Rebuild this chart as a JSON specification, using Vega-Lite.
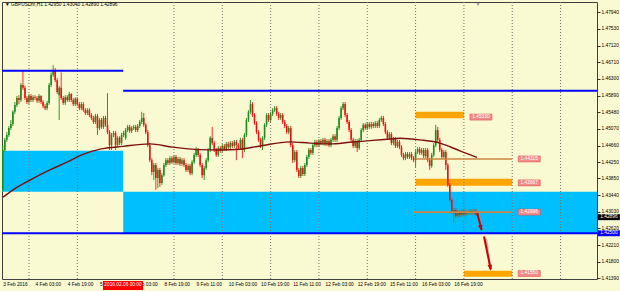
{
"$schema":"https://vega.github.io/schema/vega-lite/v6.json",
"width":595,"height":277,
"autosize":{"type":"none"},
"padding":{"left":2,"top":2,"right":23,"bottom":12},
"background":"#fafad2",
"config":{"view":{"stroke":"#404040","strokeWidth":1,"fill":"#fafad2"},"font":"Liberation Sans",
 "axis":{"labelOverlap":false,"labelFlush":false}},
"datasets":{
"zones":[{"t1":10.6,"t2":70.8,"p1":1.4453,"p2":1.4352},{"t1":70.8,"t2":306.1,"p1":1.4352,"p2":1.4250}],
"boxes":[{"t1":216,"t2":240,"p1":1.4549,"p2":1.4533},{"t1":216,"t2":264,"p1":1.4384,"p2":1.4367},{"t1":240,"t2":264,"p1":1.4158,"p2":1.4143}],
"days":[{"t":24},{"t":48},{"t":96},{"t":120},{"t":144},{"t":168},{"t":192},{"t":216},{"t":240},{"t":264},{"t":288}],
"hl":[{"t1":10.6,"t2":70.8,"p":1.4650},{"t1":70.8,"t2":306.1,"p":1.4601},{"t1":10.6,"t2":306.1,"p":1.4250}],
"tl":[{"t1":216,"t2":264,"p":1.4433},{"t1":215.2,"t2":264,"p":1.4302}],
"labs":[{"t":240,"p":1.4536,"txt":"1.45330"},{"t":264,"p":1.4374,"txt":"1.43667"},{"t":264,"p":1.4433,"txt":"1.44315"},{"t":264,"p":1.4302,"txt":"1.42996"},{"t":264,"p":1.4151,"txt":"1.41550"}],
"ma":[{"t":11.1,"p":1.4339},{"t":16.1,"p":1.4357},{"t":24.5,"p":1.4381},{"t":34.4,"p":1.4406},{"t":42.9,"p":1.4425},{"t":50.8,"p":1.4444},{"t":59.3,"p":1.4457},{"t":70.7,"p":1.4464},{"t":84.1,"p":1.447},{"t":95.5,"p":1.4462},{"t":108.9,"p":1.4456},{"t":118.9,"p":1.4455},{"t":128.8,"p":1.4457},{"t":138.7,"p":1.4465},{"t":153.6,"p":1.4475},{"t":163.5,"p":1.4472},{"t":173.5,"p":1.447},{"t":183.4,"p":1.4474},{"t":193.3,"p":1.4478},{"t":203.3,"p":1.4482},{"t":208.2,"p":1.4484},{"t":218.2,"p":1.448},{"t":228.1,"p":1.4472},{"t":233.1,"p":1.4463},{"t":238,"p":1.4453},{"t":246.5,"p":1.4437}],
"bars":[
{"t":11,"o":1.4357,"h":1.4467,"l":1.4352,"c":1.4455},
{"t":12,"o":1.4455,"h":1.4485,"l":1.4450,"c":1.4480},
{"t":13,"o":1.4480,"h":1.4499,"l":1.4475,"c":1.4492},
{"t":14,"o":1.4492,"h":1.4514,"l":1.4487,"c":1.4509},
{"t":15,"o":1.4509,"h":1.4529,"l":1.4504,"c":1.4519},
{"t":16,"o":1.4519,"h":1.4553,"l":1.4514,"c":1.4549},
{"t":17,"o":1.4549,"h":1.4573,"l":1.4544,"c":1.4566},
{"t":18,"o":1.4566,"h":1.4588,"l":1.4561,"c":1.4583},
{"t":19,"o":1.4583,"h":1.4590,"l":1.4568,"c":1.4578},
{"t":20,"o":1.4578,"h":1.4620,"l":1.4573,"c":1.4615},
{"t":21,"o":1.4615,"h":1.4650,"l":1.4603,"c":1.4608},
{"t":22,"o":1.4608,"h":1.4613,"l":1.4578,"c":1.4583},
{"t":23,"o":1.4583,"h":1.4588,"l":1.4568,"c":1.4573},
{"t":24,"o":1.4573,"h":1.4593,"l":1.4568,"c":1.4588},
{"t":25,"o":1.4588,"h":1.4593,"l":1.4573,"c":1.4578},
{"t":26,"o":1.4578,"h":1.4590,"l":1.4573,"c":1.4585},
{"t":27,"o":1.4585,"h":1.4590,"l":1.4578,"c":1.4583},
{"t":28,"o":1.4583,"h":1.4588,"l":1.4571,"c":1.4576},
{"t":29,"o":1.4576,"h":1.4593,"l":1.4571,"c":1.4588},
{"t":30,"o":1.4588,"h":1.4590,"l":1.4568,"c":1.4573},
{"t":31,"o":1.4573,"h":1.4578,"l":1.4558,"c":1.4563},
{"t":32,"o":1.4563,"h":1.4568,"l":1.4553,"c":1.4558},
{"t":33,"o":1.4558,"h":1.4576,"l":1.4553,"c":1.4571},
{"t":34,"o":1.4571,"h":1.4620,"l":1.4566,"c":1.4615},
{"t":35,"o":1.4615,"h":1.4646,"l":1.4610,"c":1.4640},
{"t":36,"o":1.4640,"h":1.4664,"l":1.4635,"c":1.4652},
{"t":37,"o":1.4652,"h":1.4657,"l":1.4622,"c":1.4627},
{"t":38,"o":1.4627,"h":1.4632,"l":1.4593,"c":1.4598},
{"t":39,"o":1.4590,"h":1.4613,"l":1.4529,"c":1.4608},
{"t":40,"o":1.4608,"h":1.4646,"l":1.4578,"c":1.4583},
{"t":41,"o":1.4583,"h":1.4588,"l":1.4566,"c":1.4571},
{"t":42,"o":1.4571,"h":1.4590,"l":1.4566,"c":1.4585},
{"t":43,"o":1.4585,"h":1.4590,"l":1.4573,"c":1.4578},
{"t":44,"o":1.4578,"h":1.4598,"l":1.4573,"c":1.4593},
{"t":45,"o":1.4593,"h":1.4595,"l":1.4573,"c":1.4578},
{"t":46,"o":1.4578,"h":1.4583,"l":1.4563,"c":1.4568},
{"t":47,"o":1.4568,"h":1.4585,"l":1.4563,"c":1.4581},
{"t":48,"o":1.4581,"h":1.4585,"l":1.4563,"c":1.4568},
{"t":49,"o":1.4568,"h":1.4573,"l":1.4553,"c":1.4558},
{"t":50,"o":1.4558,"h":1.4573,"l":1.4553,"c":1.4568},
{"t":51,"o":1.4568,"h":1.4573,"l":1.4549,"c":1.4553},
{"t":52,"o":1.4553,"h":1.4558,"l":1.4541,"c":1.4546},
{"t":53,"o":1.4546,"h":1.4558,"l":1.4541,"c":1.4553},
{"t":54,"o":1.4553,"h":1.4558,"l":1.4536,"c":1.4541},
{"t":55,"o":1.4541,"h":1.4546,"l":1.4529,"c":1.4534},
{"t":56,"o":1.4534,"h":1.4539,"l":1.4519,"c":1.4524},
{"t":57,"o":1.4524,"h":1.4544,"l":1.4519,"c":1.4539},
{"t":58,"o":1.4539,"h":1.4544,"l":1.4492,"c":1.4509},
{"t":59,"o":1.4509,"h":1.4534,"l":1.4504,"c":1.4529},
{"t":60,"o":1.4529,"h":1.4534,"l":1.4507,"c":1.4512},
{"t":61,"o":1.4512,"h":1.4539,"l":1.4507,"c":1.4534},
{"t":62,"o":1.4534,"h":1.4539,"l":1.4512,"c":1.4517},
{"t":63,"o":1.4517,"h":1.4595,"l":1.4494,"c":1.4499},
{"t":64,"o":1.4499,"h":1.4504,"l":1.4455,"c":1.4467},
{"t":65,"o":1.4467,"h":1.4497,"l":1.4455,"c":1.4492},
{"t":66,"o":1.4492,"h":1.4502,"l":1.4487,"c":1.4497},
{"t":67,"o":1.4497,"h":1.4502,"l":1.4455,"c":1.4467},
{"t":68,"o":1.4467,"h":1.4489,"l":1.4462,"c":1.4485},
{"t":69,"o":1.4485,"h":1.4489,"l":1.4467,"c":1.4472},
{"t":70,"o":1.4472,"h":1.4497,"l":1.4467,"c":1.4492},
{"t":71,"o":1.4492,"h":1.4502,"l":1.4487,"c":1.4497},
{"t":72,"o":1.4485,"h":1.4509,"l":1.4480,"c":1.4504},
{"t":73,"o":1.4504,"h":1.4517,"l":1.4499,"c":1.4512},
{"t":74,"o":1.4512,"h":1.4517,"l":1.4497,"c":1.4502},
{"t":75,"o":1.4502,"h":1.4514,"l":1.4497,"c":1.4509},
{"t":76,"o":1.4509,"h":1.4517,"l":1.4504,"c":1.4512},
{"t":77,"o":1.4512,"h":1.4517,"l":1.4499,"c":1.4504},
{"t":78,"o":1.4504,"h":1.4519,"l":1.4499,"c":1.4514},
{"t":79,"o":1.4514,"h":1.4529,"l":1.4509,"c":1.4524},
{"t":80,"o":1.4524,"h":1.4549,"l":1.4519,"c":1.4534},
{"t":81,"o":1.4534,"h":1.4546,"l":1.4512,"c":1.4517},
{"t":82,"o":1.4517,"h":1.4521,"l":1.4494,"c":1.4499},
{"t":83,"o":1.4499,"h":1.4504,"l":1.4462,"c":1.4467},
{"t":84,"o":1.4467,"h":1.4472,"l":1.4425,"c":1.4430},
{"t":85,"o":1.4430,"h":1.4435,"l":1.4393,"c":1.4401},
{"t":86,"o":1.4401,"h":1.4423,"l":1.4381,"c":1.4418},
{"t":87,"o":1.4418,"h":1.4423,"l":1.4357,"c":1.4386},
{"t":88,"o":1.4386,"h":1.4411,"l":1.4361,"c":1.4406},
{"t":89,"o":1.4406,"h":1.4411,"l":1.4364,"c":1.4374},
{"t":90,"o":1.4374,"h":1.4398,"l":1.4369,"c":1.4393},
{"t":91,"o":1.4393,"h":1.4423,"l":1.4389,"c":1.4418},
{"t":92,"o":1.4418,"h":1.4435,"l":1.4413,"c":1.4430},
{"t":93,"o":1.4430,"h":1.4435,"l":1.4418,"c":1.4423},
{"t":94,"o":1.4423,"h":1.4440,"l":1.4418,"c":1.4435},
{"t":95,"o":1.4435,"h":1.4440,"l":1.4421,"c":1.4425},
{"t":96,"o":1.4425,"h":1.4443,"l":1.4421,"c":1.4438},
{"t":97,"o":1.4438,"h":1.4443,"l":1.4418,"c":1.4423},
{"t":98,"o":1.4423,"h":1.4438,"l":1.4418,"c":1.4433},
{"t":99,"o":1.4433,"h":1.4438,"l":1.4416,"c":1.4421},
{"t":100,"o":1.4421,"h":1.4435,"l":1.4416,"c":1.4430},
{"t":101,"o":1.4430,"h":1.4435,"l":1.4413,"c":1.4418},
{"t":102,"o":1.4418,"h":1.4423,"l":1.4401,"c":1.4406},
{"t":103,"o":1.4406,"h":1.4421,"l":1.4401,"c":1.4416},
{"t":104,"o":1.4416,"h":1.4421,"l":1.4393,"c":1.4398},
{"t":105,"o":1.4398,"h":1.4430,"l":1.4393,"c":1.4425},
{"t":106,"o":1.4425,"h":1.4448,"l":1.4421,"c":1.4443},
{"t":107,"o":1.4443,"h":1.4462,"l":1.4438,"c":1.4455},
{"t":108,"o":1.4455,"h":1.4460,"l":1.4438,"c":1.4443},
{"t":109,"o":1.4443,"h":1.4448,"l":1.4413,"c":1.4418},
{"t":110,"o":1.4418,"h":1.4423,"l":1.4386,"c":1.4393},
{"t":111,"o":1.4393,"h":1.4416,"l":1.4381,"c":1.4411},
{"t":112,"o":1.4411,"h":1.4435,"l":1.4406,"c":1.4430},
{"t":113,"o":1.4430,"h":1.4460,"l":1.4425,"c":1.4455},
{"t":114,"o":1.4455,"h":1.4489,"l":1.4450,"c":1.4485},
{"t":115,"o":1.4485,"h":1.4512,"l":1.4467,"c":1.4472},
{"t":116,"o":1.4472,"h":1.4477,"l":1.4450,"c":1.4455},
{"t":117,"o":1.4455,"h":1.4460,"l":1.4438,"c":1.4443},
{"t":118,"o":1.4443,"h":1.4465,"l":1.4438,"c":1.4460},
{"t":119,"o":1.4460,"h":1.4465,"l":1.4448,"c":1.4453},
{"t":120,"o":1.4453,"h":1.4470,"l":1.4448,"c":1.4465},
{"t":121,"o":1.4465,"h":1.4470,"l":1.4453,"c":1.4457},
{"t":122,"o":1.4457,"h":1.4475,"l":1.4453,"c":1.4470},
{"t":123,"o":1.4470,"h":1.4475,"l":1.4457,"c":1.4462},
{"t":124,"o":1.4462,"h":1.4477,"l":1.4457,"c":1.4472},
{"t":125,"o":1.4472,"h":1.4477,"l":1.4460,"c":1.4465},
{"t":126,"o":1.4465,"h":1.4480,"l":1.4460,"c":1.4475},
{"t":127,"o":1.4475,"h":1.4480,"l":1.4430,"c":1.4467},
{"t":128,"o":1.4467,"h":1.4472,"l":1.4455,"c":1.4460},
{"t":129,"o":1.4460,"h":1.4485,"l":1.4455,"c":1.4480},
{"t":130,"o":1.4480,"h":1.4485,"l":1.4435,"c":1.4455},
{"t":131,"o":1.4455,"h":1.4497,"l":1.4450,"c":1.4492},
{"t":132,"o":1.4492,"h":1.4534,"l":1.4487,"c":1.4529},
{"t":133,"o":1.4529,"h":1.4553,"l":1.4524,"c":1.4549},
{"t":134,"o":1.4549,"h":1.4578,"l":1.4544,"c":1.4568},
{"t":135,"o":1.4568,"h":1.4573,"l":1.4536,"c":1.4541},
{"t":136,"o":1.4541,"h":1.4546,"l":1.4517,"c":1.4521},
{"t":137,"o":1.4521,"h":1.4526,"l":1.4494,"c":1.4499},
{"t":138,"o":1.4499,"h":1.4504,"l":1.4475,"c":1.4480},
{"t":139,"o":1.4480,"h":1.4485,"l":1.4460,"c":1.4465},
{"t":140,"o":1.4465,"h":1.4489,"l":1.4455,"c":1.4485},
{"t":141,"o":1.4485,"h":1.4521,"l":1.4480,"c":1.4517},
{"t":142,"o":1.4517,"h":1.4546,"l":1.4512,"c":1.4541},
{"t":143,"o":1.4541,"h":1.4546,"l":1.4524,"c":1.4529},
{"t":144,"o":1.4529,"h":1.4549,"l":1.4524,"c":1.4544},
{"t":145,"o":1.4544,"h":1.4558,"l":1.4539,"c":1.4553},
{"t":146,"o":1.4553,"h":1.4563,"l":1.4549,"c":1.4558},
{"t":147,"o":1.4558,"h":1.4563,"l":1.4539,"c":1.4544},
{"t":148,"o":1.4544,"h":1.4549,"l":1.4529,"c":1.4534},
{"t":149,"o":1.4534,"h":1.4546,"l":1.4529,"c":1.4541},
{"t":150,"o":1.4541,"h":1.4546,"l":1.4519,"c":1.4524},
{"t":151,"o":1.4524,"h":1.4529,"l":1.4509,"c":1.4514},
{"t":152,"o":1.4514,"h":1.4519,"l":1.4494,"c":1.4499},
{"t":153,"o":1.4499,"h":1.4514,"l":1.4494,"c":1.4509},
{"t":154,"o":1.4509,"h":1.4514,"l":1.4462,"c":1.4467},
{"t":155,"o":1.4467,"h":1.4472,"l":1.4423,"c":1.4430},
{"t":156,"o":1.4430,"h":1.4455,"l":1.4425,"c":1.4450},
{"t":157,"o":1.4450,"h":1.4455,"l":1.4401,"c":1.4406},
{"t":158,"o":1.4406,"h":1.4411,"l":1.4386,"c":1.4391},
{"t":159,"o":1.4391,"h":1.4416,"l":1.4386,"c":1.4411},
{"t":160,"o":1.4411,"h":1.4416,"l":1.4391,"c":1.4396},
{"t":161,"o":1.4396,"h":1.4423,"l":1.4391,"c":1.4418},
{"t":162,"o":1.4418,"h":1.4443,"l":1.4413,"c":1.4438},
{"t":163,"o":1.4438,"h":1.4460,"l":1.4433,"c":1.4455},
{"t":164,"o":1.4455,"h":1.4460,"l":1.4443,"c":1.4448},
{"t":165,"o":1.4448,"h":1.4472,"l":1.4443,"c":1.4467},
{"t":166,"o":1.4467,"h":1.4480,"l":1.4462,"c":1.4475},
{"t":167,"o":1.4475,"h":1.4480,"l":1.4462,"c":1.4467},
{"t":168,"o":1.4467,"h":1.4482,"l":1.4462,"c":1.4477},
{"t":169,"o":1.4477,"h":1.4482,"l":1.4467,"c":1.4472},
{"t":170,"o":1.4472,"h":1.4485,"l":1.4467,"c":1.4480},
{"t":171,"o":1.4480,"h":1.4485,"l":1.4465,"c":1.4470},
{"t":172,"o":1.4470,"h":1.4482,"l":1.4465,"c":1.4477},
{"t":173,"o":1.4477,"h":1.4482,"l":1.4462,"c":1.4467},
{"t":174,"o":1.4467,"h":1.4485,"l":1.4462,"c":1.4480},
{"t":175,"o":1.4480,"h":1.4494,"l":1.4475,"c":1.4489},
{"t":176,"o":1.4489,"h":1.4494,"l":1.4475,"c":1.4480},
{"t":177,"o":1.4480,"h":1.4514,"l":1.4475,"c":1.4509},
{"t":178,"o":1.4509,"h":1.4539,"l":1.4504,"c":1.4534},
{"t":179,"o":1.4534,"h":1.4563,"l":1.4529,"c":1.4558},
{"t":180,"o":1.4558,"h":1.4573,"l":1.4553,"c":1.4568},
{"t":181,"o":1.4568,"h":1.4573,"l":1.4536,"c":1.4541},
{"t":182,"o":1.4541,"h":1.4546,"l":1.4519,"c":1.4524},
{"t":183,"o":1.4524,"h":1.4529,"l":1.4499,"c":1.4504},
{"t":184,"o":1.4504,"h":1.4509,"l":1.4475,"c":1.4480},
{"t":185,"o":1.4480,"h":1.4485,"l":1.4460,"c":1.4465},
{"t":186,"o":1.4465,"h":1.4482,"l":1.4460,"c":1.4477},
{"t":187,"o":1.4477,"h":1.4482,"l":1.4450,"c":1.4460},
{"t":188,"o":1.4460,"h":1.4485,"l":1.4455,"c":1.4480},
{"t":189,"o":1.4480,"h":1.4509,"l":1.4475,"c":1.4504},
{"t":190,"o":1.4504,"h":1.4521,"l":1.4499,"c":1.4517},
{"t":191,"o":1.4517,"h":1.4521,"l":1.4504,"c":1.4509},
{"t":192,"o":1.4509,"h":1.4524,"l":1.4504,"c":1.4519},
{"t":193,"o":1.4519,"h":1.4524,"l":1.4507,"c":1.4512},
{"t":194,"o":1.4512,"h":1.4524,"l":1.4507,"c":1.4519},
{"t":195,"o":1.4519,"h":1.4524,"l":1.4509,"c":1.4514},
{"t":196,"o":1.4514,"h":1.4526,"l":1.4509,"c":1.4521},
{"t":197,"o":1.4521,"h":1.4526,"l":1.4509,"c":1.4514},
{"t":198,"o":1.4514,"h":1.4534,"l":1.4509,"c":1.4529},
{"t":199,"o":1.4529,"h":1.4539,"l":1.4524,"c":1.4534},
{"t":200,"o":1.4534,"h":1.4539,"l":1.4514,"c":1.4519},
{"t":201,"o":1.4519,"h":1.4524,"l":1.4494,"c":1.4499},
{"t":202,"o":1.4499,"h":1.4504,"l":1.4480,"c":1.4485},
{"t":203,"o":1.4485,"h":1.4499,"l":1.4480,"c":1.4494},
{"t":204,"o":1.4494,"h":1.4499,"l":1.4467,"c":1.4472},
{"t":205,"o":1.4472,"h":1.4487,"l":1.4467,"c":1.4482},
{"t":206,"o":1.4482,"h":1.4487,"l":1.4460,"c":1.4465},
{"t":207,"o":1.4465,"h":1.4480,"l":1.4460,"c":1.4475},
{"t":208,"o":1.4475,"h":1.4480,"l":1.4457,"c":1.4462},
{"t":209,"o":1.4462,"h":1.4467,"l":1.4438,"c":1.4443},
{"t":210,"o":1.4443,"h":1.4448,"l":1.4430,"c":1.4435},
{"t":211,"o":1.4435,"h":1.4450,"l":1.4430,"c":1.4445},
{"t":212,"o":1.4445,"h":1.4450,"l":1.4433,"c":1.4438},
{"t":213,"o":1.4438,"h":1.4450,"l":1.4433,"c":1.4445},
{"t":214,"o":1.4445,"h":1.4450,"l":1.4430,"c":1.4435},
{"t":215,"o":1.4435,"h":1.4440,"l":1.4425,"c":1.4430},
{"t":216,"o":1.4430,"h":1.4455,"l":1.4413,"c":1.4450},
{"t":217,"o":1.4450,"h":1.4462,"l":1.4445,"c":1.4457},
{"t":218,"o":1.4457,"h":1.4462,"l":1.4443,"c":1.4448},
{"t":219,"o":1.4448,"h":1.4460,"l":1.4443,"c":1.4455},
{"t":220,"o":1.4455,"h":1.4460,"l":1.4435,"c":1.4440},
{"t":221,"o":1.4440,"h":1.4460,"l":1.4435,"c":1.4455},
{"t":222,"o":1.4455,"h":1.4460,"l":1.4425,"c":1.4430},
{"t":223,"o":1.4430,"h":1.4435,"l":1.4406,"c":1.4416},
{"t":224,"o":1.4416,"h":1.4448,"l":1.4411,"c":1.4443},
{"t":225,"o":1.4443,"h":1.4472,"l":1.4438,"c":1.4467},
{"t":226,"o":1.4467,"h":1.4517,"l":1.4462,"c":1.4504},
{"t":227,"o":1.4504,"h":1.4512,"l":1.4475,"c":1.4480},
{"t":228,"o":1.4480,"h":1.4485,"l":1.4450,"c":1.4455},
{"t":229,"o":1.4455,"h":1.4460,"l":1.4433,"c":1.4438},
{"t":230,"o":1.4438,"h":1.4455,"l":1.4433,"c":1.4450},
{"t":231,"o":1.4450,"h":1.4455,"l":1.4406,"c":1.4418},
{"t":232,"o":1.4418,"h":1.4423,"l":1.4364,"c":1.4369},
{"t":233,"o":1.4369,"h":1.4374,"l":1.4327,"c":1.4332},
{"t":234,"o":1.4332,"h":1.4337,"l":1.4297,"c":1.4302},
{"t":235,"o":1.4302,"h":1.4312,"l":1.4278,"c":1.4307},
{"t":236,"o":1.4307,"h":1.4312,"l":1.4288,"c":1.4293},
{"t":237,"o":1.4293,"h":1.4307,"l":1.4288,"c":1.4302},
{"t":238,"o":1.4302,"h":1.4307,"l":1.4290,"c":1.4295},
{"t":239,"o":1.4295,"h":1.4310,"l":1.4290,"c":1.4305},
{"t":240,"o":1.4305,"h":1.4310,"l":1.4293,"c":1.4297},
{"t":241,"o":1.4297,"h":1.4307,"l":1.4293,"c":1.4302},
{"t":242,"o":1.4302,"h":1.4307,"l":1.4295,"c":1.4300},
{"t":243,"o":1.4300,"h":1.4310,"l":1.4295,"c":1.4305},
{"t":244,"o":1.4305,"h":1.4310,"l":1.4295,"c":1.4300},
{"t":245,"o":1.4300,"h":1.4310,"l":1.4295,"c":1.4305},
{"t":246,"o":1.4305,"h":1.4310,"l":1.4293,"c":1.4297},
{"t":247,"o":1.4295,"h":1.4304,"l":1.4289,"c":1.42896}
]},
"layer":[
{"data":{"name":"zones"},"mark":{"type":"rect","color":"#00bfff"},
 "encoding":{
  "x":{"field":"t1","type":"quantitative","title":null,"scale":{"domain":[10.6,306.1],"nice":false,"zero":false},
   "axis":{"orient":"bottom","values":[11,27,43,59,75,91,107,123,139,155,171,187,203,219,235],"tickCount":30,
    "labelExpr":"['3 Feb 2016','4 Feb 03:00','4 Feb 19:00','5 Feb 11:00','8 Feb 03:00','8 Feb 19:00','9 Feb 11:00','10 Feb 03:00','10 Feb 19:00','11 Feb 11:00','12 Feb 03:00','12 Feb 19:00','15 Feb 11:00','16 Feb 03:00','16 Feb 19:00'][round((datum.value-11)/16)]",
    "labelAlign":"left","labelBaseline":"top","labelPadding":2,"ticks":false,"domain":false,"grid":false,"labelFontSize":4.8,"labelColor":"#000","labelOverlap":false,"labelFlush":false}},
  "x2":{"field":"t2"},
  "y":{"field":"p1","type":"quantitative","title":null,"scale":{"domain":[1.41374,1.48194],"nice":false,"zero":false},
   "axis":{"orient":"right","values":[1.4794,1.4753,1.4712,1.4671,1.463,1.4589,1.4548,1.4507,1.4466,1.4425,1.4385,1.4344,1.4303,1.4262,1.4221,1.418,1.4139],"tickCount":30,
    "format":".5f","labelFontSize":4.8,"labelColor":"#000","tickColor":"#000","tickSize":3,"tickWidth":0.8,"labelPadding":1,"domain":false,"grid":false,"labelOverlap":false,"labelFlush":false}},
  "y2":{"field":"p2"}}},
{"data":{"name":"boxes"},"mark":{"type":"rect","color":"#ffa500"},
 "encoding":{"x":{"field":"t1","type":"quantitative","title":null},"x2":{"field":"t2"},"y":{"field":"p1","type":"quantitative","title":null},"y2":{"field":"p2"}}},
{"data":{"name":"days"},"mark":{"type":"rule","color":"#707070","strokeWidth":1,"strokeDash":[1,2]},
 "encoding":{"x":{"field":"t","type":"quantitative","title":null}}},
{"mark":{"type":"rule","color":"#a0a0a0","strokeWidth":0.8},"encoding":{"y":{"datum":1.42896}}},
{"data":{"name":"bars"},"mark":{"type":"rule","strokeWidth":1},
 "encoding":{"x":{"field":"t","type":"quantitative","title":null},"y":{"field":"l","type":"quantitative","title":null},"y2":{"field":"h"},
  "color":{"condition":{"test":"datum.c >= datum.o","value":"#2f9a2f"},"value":"#ff2a2a"}}},
{"data":{"name":"bars"},"mark":{"type":"rule","strokeWidth":1.6},
 "encoding":{"x":{"field":"t","type":"quantitative","title":null},"y":{"field":"o","type":"quantitative","title":null},"y2":{"field":"c"},
  "color":{"condition":{"test":"datum.c >= datum.o","value":"#1f8a1f"},"value":"#ee1111"}}},
{"data":{"name":"ma"},"mark":{"type":"line","color":"#7f1010","strokeWidth":1.4,"interpolate":"monotone"},
 "encoding":{"x":{"field":"t","type":"quantitative","title":null},"y":{"field":"p","type":"quantitative","title":null}}},
{"data":{"name":"hl"},"mark":{"type":"rule","color":"#0000ff","strokeWidth":2},
 "encoding":{"x":{"field":"t1","type":"quantitative","title":null},"x2":{"field":"t2"},"y":{"field":"p","type":"quantitative","title":null}}},
{"data":{"name":"tl"},"mark":{"type":"rule","color":"#cd853f","strokeWidth":1.6},
 "encoding":{"x":{"field":"t1","type":"quantitative","title":null},"x2":{"field":"t2"},"y":{"field":"p","type":"quantitative","title":null}}},
{"mark":{"type":"rule","color":"#ff0000","strokeWidth":1},"encoding":{"x":{"datum":70.8}}},
{"data":{"values":[{"t1":246.6,"p1":1.4299,"t2":248.8,"p2":1.4258},{"t1":250,"p1":1.4242,"t2":253.3,"p2":1.4161}]},
 "mark":{"type":"rule","color":"#909090","strokeWidth":2,"opacity":0.6,"xOffset":2,"yOffset":2},
 "encoding":{"x":{"field":"t1","type":"quantitative","title":null},"x2":{"field":"t2"},"y":{"field":"p1","type":"quantitative","title":null},"y2":{"field":"p2"}}},
{"data":{"values":[{"t1":246.6,"p1":1.4299,"t2":248.8,"p2":1.4258},{"t1":250,"p1":1.4242,"t2":253.3,"p2":1.4161}]},
 "mark":{"type":"rule","color":"#cc0000","strokeWidth":2},
 "encoding":{"x":{"field":"t1","type":"quantitative","title":null},"x2":{"field":"t2"},"y":{"field":"p1","type":"quantitative","title":null},"y2":{"field":"p2"}}},
{"data":{"values":[{"t":248.8,"p":1.4256}]},
 "mark":{"type":"point","shape":"M0,0L-1,-2.6L1,-2.6Z","filled":true,"opacity":1,"size":20,"color":"#cc0000","angle":345},
 "encoding":{"x":{"field":"t","type":"quantitative","title":null},"y":{"field":"p","type":"quantitative","title":null}}},
{"data":{"values":[{"t":253.4,"p":1.4158}]},
 "mark":{"type":"point","shape":"M0,0L-1,-2.6L1,-2.6Z","filled":true,"opacity":1,"size":20,"color":"#cc0000","angle":349},
 "encoding":{"x":{"field":"t","type":"quantitative","title":null},"y":{"field":"p","type":"quantitative","title":null}}},
{"data":{"name":"labs"},
 "mark":{"type":"point","shape":"M-1,-0.27H1V0.27H-1Z","filled":true,"opacity":1,"size":484,"fill":"#f28c8c","stroke":"#e05050","strokeWidth":0.6,"xOffset":17,"clip":false},
 "encoding":{"x":{"field":"t","type":"quantitative","title":null},"y":{"field":"p","type":"quantitative","title":null}}},
{"data":{"name":"labs"},
 "mark":{"type":"text","fontSize":4.8,"color":"#ffffff","xOffset":17,"align":"center","baseline":"middle"},
 "encoding":{"x":{"field":"t","type":"quantitative","title":null},"y":{"field":"p","type":"quantitative","title":null},"text":{"field":"txt"}}},
{"data":{"values":[{"t":312,"p":1.42896,"txt":"1.42896","k":"bid"},{"t":312,"p":1.4250,"txt":"1.42500","k":"lvl"}]},
 "mark":{"type":"point","shape":"M-1,-0.27H1V0.27H-1Z","filled":true,"opacity":1,"size":484,"clip":false},
 "encoding":{"x":{"field":"t","type":"quantitative","title":null},"y":{"field":"p","type":"quantitative","title":null},
  "color":{"condition":{"test":"datum.k == 'bid'","value":"#000000"},"value":"#0000ff"}}},
{"data":{"values":[{"t":312,"p":1.42896,"txt":"1.42896"},{"t":312,"p":1.4250,"txt":"1.42500"}]},
 "mark":{"type":"text","fontSize":4.8,"color":"#ffffff","align":"center","baseline":"middle","clip":false},
 "encoding":{"x":{"field":"t","type":"quantitative","title":null},"y":{"field":"p","type":"quantitative","title":null},"text":{"field":"txt"}}},
{"data":{"values":[{"t":70.7,"p":1.41214}]},
 "mark":{"type":"point","shape":"M-1,-0.225H1V0.225H-1Z","filled":true,"opacity":1,"size":1600,"color":"#ff0000","clip":false},
 "encoding":{"x":{"field":"t","type":"quantitative","title":null},"y":{"field":"p","type":"quantitative","title":null}}},
{"data":{"values":[{"t":70.7,"p":1.41214,"txt":"2016.02.06 00:00"}]},
 "mark":{"type":"text","fontSize":4.8,"color":"#ffffff","align":"center","baseline":"middle","clip":false},
 "encoding":{"x":{"field":"t","type":"quantitative","title":null},"y":{"field":"p","type":"quantitative","title":null},"text":{"field":"txt"}}},
{"data":{"values":[{"t":12.1,"p":1.4812,"txt":"▼ GBPUSDm,H1  1.42950 1.43040 1.42890 1.42896"}]},
 "mark":{"type":"text","fontSize":4.8,"color":"#000000","align":"left","baseline":"middle"},
 "encoding":{"x":{"field":"t","type":"quantitative","title":null},"y":{"field":"p","type":"quantitative","title":null},"text":{"field":"txt"}}},
{"data":{"values":[{"t":247,"p":1.4815,"txt":"▼"}]},
 "mark":{"type":"text","fontSize":5,"color":"#909090","align":"center","baseline":"middle"},
 "encoding":{"x":{"field":"t","type":"quantitative","title":null},"y":{"field":"p","type":"quantitative","title":null},"text":{"field":"txt"}}}
]
}
